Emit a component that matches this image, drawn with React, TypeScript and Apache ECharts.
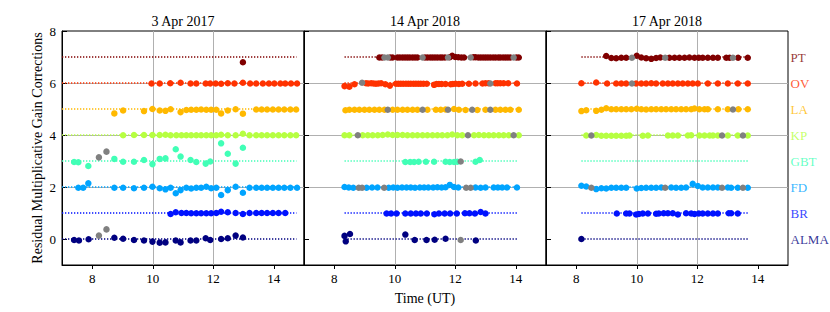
import React, { useEffect, useRef } from 'react';
import * as echarts from 'echarts';

const stations = ['ALMA', 'BR', 'FD', 'GBT', 'KP', 'LA', 'OV', 'PT'];
const offsets = [0, 1, 2, 3, 4, 5, 6, 7];
const colors = ['#000080', '#0012ff', '#00a4ff', '#41ffb6', '#b6ff41', '#ffb900', '#ff3200', '#800000'];
const flaggedColor = '#808080';
const panelTitles = ['3 Apr 2017', '14 Apr 2018', '17 Apr 2018'];
const refLineStart = [7.0, 8.34, 8.17];
const refLineEnd = [14.75, 14.05, 13.67];
const xTicks = [8, 10, 12, 14];
const yTicks = [0, 2, 4, 6, 8];

// ---- 3 Apr 2017 ----
const a17_ALMA = [[7.4, -0.04], [7.56, -0.06], [7.88, -0.01], [8.73, 0.05], [9.02, 0.01], [9.38, -0.04], [9.71, -0.06], [9.99, -0.1], [10.23, -0.14], [10.42, -0.13], [10.76, -0.06], [10.92, -0.13], [11.25, -0.06], [11.44, -0.06], [11.75, 0.03], [11.9, -0.04], [12.26, 0.0], [12.48, 0.03], [12.74, 0.13], [12.98, 0.06]];
const a17_BR = [[10.59, 0.96], [10.76, 1.03], [10.95, 1.0], [11.11, 1.0], [11.27, 0.99], [11.44, 0.99], [11.6, 0.99], [11.77, 0.99], [11.93, 0.99], [12.1, 1.0], [12.26, 1.05], [12.48, 1.03], [12.74, 1.0], [12.98, 0.96], [13.2, 1.0], [13.42, 1.0], [13.6, 1.0], [13.78, 1.0], [13.97, 1.0], [14.16, 1.0], [14.38, 1.0]];
const a17_FD = [[7.54, 1.97], [7.7, 1.97], [7.87, 2.14], [8.73, 1.97], [9.02, 1.97], [9.38, 1.95], [9.71, 1.97], [9.99, 2.01], [10.23, 1.95], [10.42, 1.91], [10.59, 1.97], [10.76, 1.76], [10.92, 1.88], [11.11, 1.97], [11.27, 1.94], [11.44, 1.97], [11.6, 1.97], [11.77, 2.01], [11.93, 1.95], [12.1, 1.97], [12.26, 1.69], [12.48, 1.88], [12.74, 2.01], [12.98, 1.78], [13.2, 1.97], [13.42, 1.97], [13.6, 1.97], [13.78, 1.97], [13.97, 1.97], [14.16, 1.97], [14.35, 1.97], [14.55, 1.97], [14.77, 1.97]];
const a17_GBT = [[7.4, 2.96], [7.54, 2.95], [7.87, 2.81], [8.73, 3.08], [9.02, 2.97], [9.38, 2.97], [9.71, 3.04], [9.99, 2.88], [10.23, 3.08], [10.42, 3.1], [10.76, 3.45], [10.92, 3.17], [11.25, 3.04], [11.44, 2.96], [11.75, 2.9], [11.9, 2.98], [12.26, 3.68], [12.48, 3.28], [12.74, 2.9], [12.98, 3.51]];
const a17_KP = [[9.02, 3.99], [9.38, 4.0], [9.71, 4.0], [9.99, 4.0], [10.23, 4.0], [10.42, 4.01], [10.59, 3.99], [10.78, 3.99], [10.95, 3.99], [11.11, 3.99], [11.27, 3.99], [11.44, 3.99], [11.6, 3.99], [11.77, 3.99], [11.93, 3.99], [12.1, 3.99], [12.26, 4.01], [12.48, 3.99], [12.74, 3.99], [12.98, 4.05], [13.2, 3.99], [13.42, 3.99], [13.6, 3.99], [13.78, 3.99], [13.97, 3.99], [14.16, 3.99], [14.35, 3.99], [14.55, 3.99], [14.74, 3.99]];
const a17_LA = [[8.73, 4.83], [9.02, 4.94], [9.71, 4.92], [9.99, 5.0], [10.23, 4.94], [10.42, 4.93], [10.59, 4.99], [10.92, 4.88], [11.11, 4.96], [11.27, 4.97], [11.44, 4.97], [11.6, 4.98], [11.77, 4.97], [11.93, 4.97], [12.1, 4.97], [12.26, 4.83], [12.48, 4.94], [12.74, 4.99], [12.98, 4.82], [13.42, 4.98], [13.6, 4.98], [13.78, 4.98], [13.97, 4.98], [14.16, 4.98], [14.35, 4.98], [14.55, 4.98], [14.74, 4.98]];
const a17_OV = [[9.96, 5.98], [10.23, 5.98], [10.58, 5.99], [10.92, 6.01], [11.25, 5.98], [11.44, 5.98], [11.75, 5.98], [11.9, 5.98], [12.08, 5.98], [12.26, 5.97], [12.48, 5.99], [12.7, 5.98], [12.98, 6.01], [13.22, 5.98], [13.42, 5.98], [13.64, 5.98], [13.84, 5.98], [14.02, 5.98], [14.22, 5.98], [14.38, 5.98], [14.57, 5.98], [14.77, 5.98]];
const a17_PT = [[12.98, 6.8]];
const a17_flagged = [[8.22, 3.14], [8.47, 3.36], [8.22, 0.13], [8.47, 0.37]];

// ---- 14 Apr 2018 ----
const b14_ALMA = [[8.34, 0.12], [8.38, -0.09], [8.52, 0.19], [10.35, 0.17], [10.66, -0.04], [11.05, -0.04], [11.32, -0.03], [11.68, 0.01], [12.68, -0.06]];
const b14_BR = [[9.73, 0.98], [9.88, 0.98], [10.06, 0.98], [10.35, 0.98], [10.53, 0.98], [10.7, 0.98], [10.86, 0.98], [11.06, 0.98], [11.31, 0.95], [11.46, 0.98], [11.65, 0.98], [11.83, 0.98], [12.05, 0.98], [12.32, 0.99], [12.47, 0.99], [12.65, 0.98], [12.84, 1.04], [13.0, 0.98]];
const b14_FD = [[8.34, 2.0], [8.48, 1.98], [8.63, 1.97], [9.07, 1.97], [9.25, 1.98], [9.43, 1.98], [9.8, 1.97], [9.95, 1.98], [10.09, 1.97], [10.24, 1.98], [10.39, 1.98], [10.53, 1.98], [10.67, 1.97], [10.83, 1.98], [10.97, 1.98], [11.11, 1.98], [11.27, 1.98], [11.41, 1.99], [11.55, 1.98], [11.68, 1.99], [11.82, 2.08], [11.96, 2.0], [12.1, 1.98], [12.67, 1.98], [12.84, 1.97], [13.0, 1.98], [13.27, 1.98], [13.41, 1.98], [13.55, 1.98], [13.71, 1.98], [14.04, 1.98]];
const b14_GBT = [[10.35, 2.96], [10.51, 2.96], [10.64, 2.96], [10.79, 2.97], [11.03, 2.97], [11.3, 2.97], [11.68, 2.97], [11.82, 2.96], [11.96, 2.96], [12.07, 2.97], [12.67, 2.97], [12.81, 3.04]];
const b14_KP = [[8.34, 3.99], [8.5, 3.99], [8.94, 3.99], [9.11, 3.99], [9.27, 3.99], [9.44, 3.99], [9.6, 4.0], [9.77, 4.02], [9.93, 4.0], [10.09, 4.0], [10.26, 4.0], [10.42, 3.99], [10.59, 3.99], [10.75, 3.99], [10.92, 3.99], [11.08, 3.99], [11.25, 3.99], [11.41, 3.99], [11.57, 3.99], [11.74, 3.99], [11.9, 4.02], [12.07, 3.99], [12.23, 3.99], [12.62, 3.99], [12.78, 4.0], [12.95, 3.99], [13.11, 3.99], [13.27, 3.99], [13.44, 3.99], [13.6, 3.99], [13.77, 3.99], [14.1, 3.99]];
const b14_LA = [[8.37, 4.95], [8.5, 4.97], [8.67, 4.97], [8.83, 4.97], [9.0, 4.97], [9.16, 4.97], [9.33, 4.97], [9.49, 4.97], [9.66, 4.97], [9.93, 4.97], [10.09, 4.97], [10.26, 4.97], [10.42, 4.97], [10.59, 4.97], [10.75, 4.97], [11.08, 4.97], [11.36, 4.97], [11.52, 4.97], [11.68, 4.98], [11.96, 5.0], [12.12, 4.97], [12.34, 4.96], [12.73, 4.96], [13.0, 4.97], [13.33, 4.97], [13.49, 4.97], [13.66, 4.97], [13.82, 4.97], [14.1, 4.97]];
const b14_OV = [[8.34, 5.88], [8.5, 5.86], [8.67, 5.95], [9.05, 5.99], [9.12, 5.98], [9.22, 5.99], [9.3, 5.98], [9.38, 5.97], [9.46, 5.98], [9.55, 5.99], [9.69, 5.95], [9.84, 5.9], [10.04, 5.97], [10.12, 5.97], [10.2, 5.97], [10.28, 5.97], [10.37, 5.97], [10.45, 5.97], [10.53, 5.97], [10.62, 5.97], [10.7, 5.97], [10.78, 5.97], [10.86, 5.97], [10.95, 5.97], [11.06, 5.97], [11.3, 5.93], [11.38, 5.96], [11.46, 5.96], [11.55, 5.96], [11.68, 5.96], [11.85, 5.95], [11.92, 5.96], [12.01, 5.97], [12.12, 5.96], [12.23, 5.97], [12.45, 5.97], [12.67, 5.98], [12.9, 5.98], [13.0, 5.99], [13.1, 5.99], [13.33, 5.99], [13.4, 5.99], [13.49, 5.99], [13.6, 5.99], [13.75, 5.99], [14.04, 5.98]];
const b14_PT = [[9.49, 6.98], [9.58, 6.98], [9.85, 6.98], [9.93, 6.98], [10.09, 6.98], [10.17, 6.98], [10.26, 6.98], [10.34, 6.98], [10.42, 6.98], [10.5, 6.98], [10.59, 6.98], [10.67, 6.98], [10.75, 6.98], [11.0, 6.98], [11.08, 6.98], [11.17, 6.98], [11.25, 6.98], [11.33, 6.98], [11.41, 6.98], [11.5, 6.98], [11.57, 6.98], [11.66, 6.98], [11.82, 6.99], [11.9, 7.05], [12.0, 7.0], [12.1, 6.99], [12.2, 6.98], [12.29, 6.98], [12.6, 6.99], [12.67, 6.99], [12.76, 6.98], [12.84, 6.98], [12.92, 6.98], [13.0, 6.98], [13.08, 6.98], [13.16, 6.98], [13.25, 6.98], [13.33, 6.98], [13.42, 6.98], [13.49, 6.98], [13.58, 6.98], [13.66, 6.98], [13.74, 6.98], [13.82, 6.98], [14.02, 6.98], [14.1, 6.98]];
const b14_flagged = [[9.66, 6.98], [9.77, 6.98], [10.92, 6.98], [11.76, 6.98], [12.51, 6.98], [13.93, 6.98], [8.92, 6.01], [13.16, 5.98], [9.77, 4.97], [10.92, 4.97], [11.76, 4.97], [12.56, 4.97], [13.16, 4.97], [8.78, 3.99], [12.42, 3.99], [13.93, 3.99], [12.18, 2.98], [8.81, 1.97], [8.92, 1.97], [9.65, 1.97], [12.36, 1.97], [12.51, 1.97], [12.18, -0.04]];

// ---- 17 Apr 2018 ----
const c17_ALMA = [[8.17, 0.0]];
const c17_BR = [[9.34, 0.98], [9.65, 0.98], [9.76, 0.98], [9.98, 0.94], [10.07, 0.96], [10.2, 0.98], [10.37, 0.98], [10.64, 0.97], [10.73, 0.98], [10.89, 0.99], [11.03, 0.99], [11.19, 0.99], [11.36, 0.94], [11.63, 0.99], [11.8, 0.98], [11.91, 0.96], [12.05, 0.98], [12.18, 0.98], [12.35, 0.98], [12.52, 0.98], [12.68, 0.98], [13.04, 0.99], [13.12, 0.99], [13.34, 0.98]];
const c17_FD = [[8.17, 2.05], [8.33, 2.02], [8.66, 1.92], [8.83, 1.95], [8.99, 1.94], [9.16, 1.97], [9.32, 1.97], [9.49, 1.97], [9.65, 1.97], [10.0, 1.94], [10.15, 1.96], [10.31, 1.97], [10.48, 1.97], [10.64, 1.97], [10.81, 1.98], [11.14, 1.98], [11.3, 1.97], [11.47, 1.97], [11.63, 1.98], [11.85, 2.12], [12.02, 2.04], [12.18, 1.98], [12.35, 1.98], [12.52, 1.98], [12.68, 1.98], [13.01, 1.98], [13.12, 1.97], [13.34, 1.97], [13.67, 1.97]];
const c17_GBT: number[][] = [];
const c17_KP = [[8.33, 3.98], [8.66, 4.0], [8.83, 3.97], [8.99, 3.97], [9.16, 3.97], [9.32, 3.97], [9.49, 3.97], [9.65, 3.97], [9.76, 3.98], [10.2, 3.97], [10.37, 3.98], [11.03, 3.98], [11.19, 3.98], [11.36, 3.98], [11.69, 3.98], [11.8, 3.99], [12.07, 3.98], [12.24, 3.98], [12.41, 3.98], [12.52, 3.98], [12.68, 3.98], [13.01, 3.98], [13.34, 3.98], [13.67, 3.98]];
const c17_LA = [[8.17, 4.92], [8.33, 4.95], [8.66, 4.93], [8.83, 4.97], [8.99, 5.03], [9.16, 4.99], [9.32, 4.99], [9.49, 4.99], [9.65, 4.99], [9.82, 4.99], [10.0, 5.01], [10.15, 4.99], [10.31, 4.98], [10.48, 4.99], [10.64, 4.99], [10.81, 4.99], [10.97, 4.99], [11.14, 4.99], [11.3, 4.99], [11.47, 4.99], [11.63, 4.99], [11.8, 4.99], [11.91, 5.02], [12.07, 4.99], [12.24, 4.99], [12.35, 4.99], [12.68, 4.99], [13.01, 4.99], [13.36, 4.99], [13.67, 4.99]];
const c17_OV = [[8.17, 5.99], [8.66, 6.02], [9.02, 5.98], [9.32, 5.98], [9.49, 5.98], [9.65, 5.98], [9.98, 5.98], [10.15, 5.98], [10.31, 5.98], [10.48, 5.99], [10.64, 5.98], [10.86, 5.98], [11.03, 5.98], [11.19, 5.98], [11.36, 5.98], [11.52, 5.98], [11.69, 5.98], [11.85, 5.98], [12.02, 5.98], [12.35, 5.98], [12.68, 5.98], [13.01, 5.98], [13.34, 5.98], [13.67, 5.98]];
const c17_PT = [[8.99, 7.04], [9.16, 6.96], [9.32, 6.95], [9.49, 6.97], [9.65, 6.97], [10.0, 7.05], [10.15, 6.98], [10.31, 6.95], [10.48, 6.93], [10.64, 6.96], [10.78, 6.98], [11.08, 6.97], [11.25, 6.97], [11.41, 6.97], [11.58, 6.97], [11.74, 6.98], [11.91, 6.97], [12.05, 6.97], [12.18, 6.97], [12.35, 6.97], [12.52, 6.97], [12.68, 6.97], [12.96, 6.97], [13.07, 6.97], [13.35, 6.97], [13.67, 6.97]];
const c17_flagged = [[9.84, 6.97], [10.94, 6.97], [13.18, 6.97], [9.84, 5.98], [13.18, 4.98], [8.5, 3.98], [12.82, 3.98], [13.51, 3.98], [8.5, 1.97], [10.94, 1.97], [12.82, 1.97], [13.51, 1.97]];

const panelData = [
  [a17_ALMA, a17_BR, a17_FD, a17_GBT, a17_KP, a17_LA, a17_OV, a17_PT],
  [b14_ALMA, b14_BR, b14_FD, b14_GBT, b14_KP, b14_LA, b14_OV, b14_PT],
  [c17_ALMA, c17_BR, c17_FD, c17_GBT, c17_KP, c17_LA, c17_OV, c17_PT],
];
const panelFlagged = [a17_flagged, b14_flagged, c17_flagged];

const FONT = "'Liberation Serif', 'Times New Roman', serif";

export default function App() {
  const ref = useRef<HTMLDivElement>(null);
  useEffect(() => {
    if (!ref.current) return;
    const chart = echarts.init(ref.current, null, { renderer: 'svg' });
    const gridLeft = 62;
    const gridW = 242;
    const grids: any[] = [];
    const xAxes: any[] = [];
    const yAxes: any[] = [];
    const series: any[] = [];
    const graphics: any[] = [];
    for (let p = 0; p < 3; p++) {
      grids.push({
        left: gridLeft + p * gridW,
        top: 31,
        width: gridW,
        height: 234,
        show: true,
        borderColor: '#000',
        borderWidth: 1,
        backgroundColor: 'transparent',
      });
      xAxes.push({
        type: 'value',
        gridIndex: p,
        min: 7,
        max: 15,
        axisLine: { show: true, onZero: false, lineStyle: { color: '#000', width: 1 } },
        axisTick: { show: true, inside: false, length: 4, customValues: xTicks, lineStyle: { color: '#000' } },
        axisLabel: { show: true, customValues: xTicks, margin: 7, fontFamily: FONT, fontSize: 13, color: '#000' },
        splitLine: { show: true, showMinLine: false, showMaxLine: false, lineStyle: { color: '#b0b0b0', width: 1 } },
      });
      yAxes.push({
        type: 'value',
        gridIndex: p,
        min: -1,
        max: 8,
        axisLine: { show: true, onZero: false, lineStyle: { color: '#000', width: 1 } },
        axisTick: { show: true, inside: true, length: 5, customValues: yTicks, lineStyle: { color: '#000' } },
        axisLabel: { show: p === 0, customValues: yTicks, margin: 6, fontFamily: FONT, fontSize: 13, color: '#000' },
        splitLine: { show: true, showMinLine: false, showMaxLine: false, lineStyle: { color: '#b0b0b0', width: 1 } },
      });
      for (let s = 0; s < stations.length; s++) {
        series.push({
          type: 'line',
          xAxisIndex: p,
          yAxisIndex: p,
          data: [[refLineStart[p], offsets[s]], [refLineEnd[p], offsets[s]]],
          symbol: 'none',
          silent: true,
          lineStyle: { color: colors[s], width: 1.5, type: [1.3, 1.7] },
          z: 2,
        });
      }
      for (let s = 0; s < stations.length; s++) {
        series.push({
          type: 'scatter',
          xAxisIndex: p,
          yAxisIndex: p,
          data: panelData[p][s],
          symbolSize: 6.5,
          itemStyle: { color: colors[s], opacity: 1 },
          z: 3,
        });
      }
      series.push({
        type: 'scatter',
        xAxisIndex: p,
        yAxisIndex: p,
        data: panelFlagged[p],
        symbolSize: 6.5,
        itemStyle: { color: flaggedColor, opacity: 1 },
        z: 4,
      });
      graphics.push({
        type: 'text',
        x: gridLeft + p * gridW + gridW / 2,
        y: 21,
        style: { text: panelTitles[p], fill: '#000', font: `14px ${FONT}`, textAlign: 'center', textVerticalAlign: 'middle' },
      });
    }
    // station labels at the right of the last panel
    series.push({
      type: 'scatter',
      xAxisIndex: 2,
      yAxisIndex: 2,
      symbolSize: 1,
      silent: true,
      itemStyle: { color: 'rgba(0,0,0,0)' },
      data: stations.map((name, i) => ({
        value: [15, offsets[i]],
        label: {
          show: true,
          position: 'right',
          distance: 2,
          formatter: name,
          color: colors[i],
          fontFamily: FONT,
          fontSize: 13,
        },
      })),
      z: 5,
    });
    graphics.push({
      type: 'text',
      x: 37,
      y: 148,
      rotation: Math.PI / 2,
      style: { text: 'Residual Multiplicative Gain Corrections', fill: '#000', font: `14px ${FONT}`, textAlign: 'center', textVerticalAlign: 'middle' },
    });
    graphics.push({
      type: 'text',
      x: gridLeft + gridW + gridW / 2,
      y: 298,
      style: { text: 'Time (UT)', fill: '#000', font: `14px ${FONT}`, textAlign: 'center', textVerticalAlign: 'middle' },
    });
    chart.setOption({
      animation: false,
      backgroundColor: '#fff',
      grid: grids,
      xAxis: xAxes,
      yAxis: yAxes,
      series,
      graphic: graphics,
    });
    return () => chart.dispose();
  }, []);
  return <div ref={ref} style={{ position: 'fixed', left: 0, top: 0, width: 830, height: 312 }} />;
}
